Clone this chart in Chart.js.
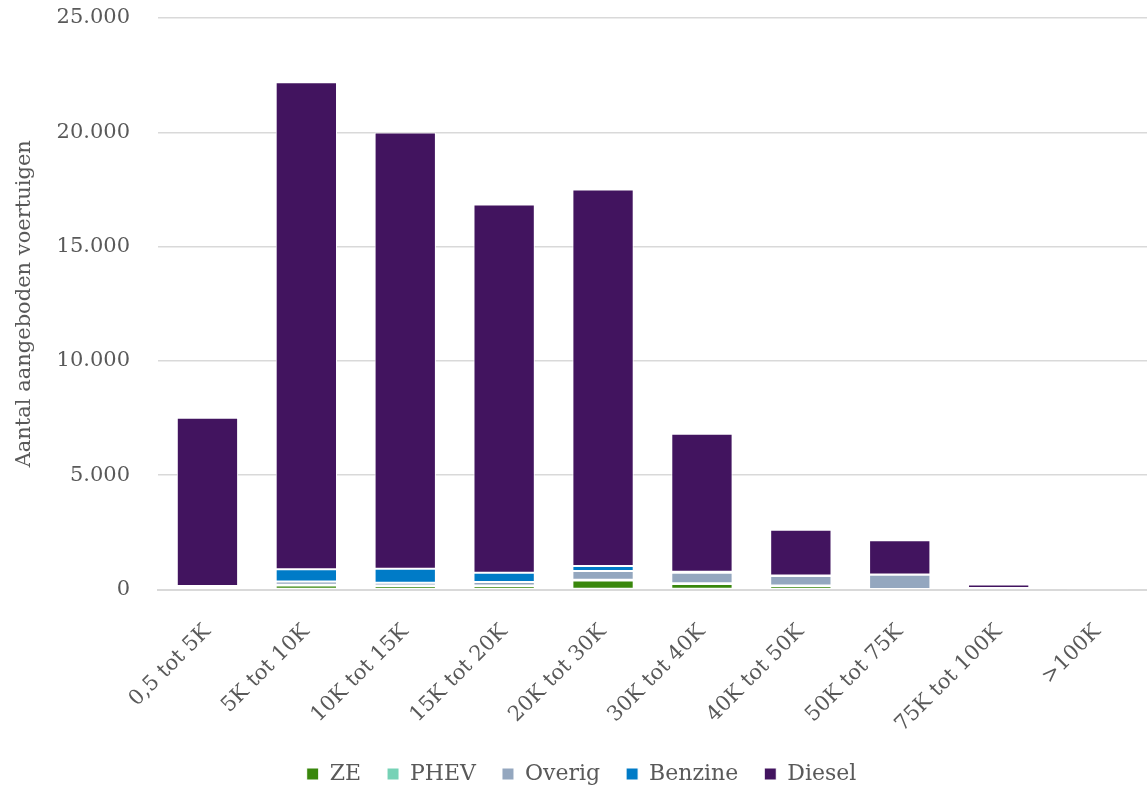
<!DOCTYPE html>
<html>
<head>
<meta charset="utf-8">
<script src="https://cdn.jsdelivr.net/npm/chart.js@4.4.1/dist/chart.umd.min.js"></script>
<style>
html,body{margin:0;padding:0;background:#fff;}
#wrap{width:1147px;height:789px;position:relative;}
</style>
</head>
<body>
<div id="wrap"><canvas id="c" width="1147" height="789"></canvas></div>
<script>
const categories = ['0,5 tot 5K','5K tot 10K','10K tot 15K','15K tot 20K','20K tot 30K','30K tot 40K','40K tot 50K','50K tot 75K','75K tot 100K','>100K'];
const ze      = [20, 175, 150, 150, 395, 240, 150, 10, 10, 0];
const phev    = [10, 30, 30, 30, 30, 30, 20, 10, 5, 0];
const overig  = [80, 150, 120, 145, 385, 465, 420, 625, 40, 10];
const benzine = [40, 530, 610, 410, 220, 40, 20, 10, 10, 0];
const diesel  = [7360, 21300, 19085, 16105, 16470, 6035, 2000, 1500, 155, 10];
const yTicks  = [0, 5000, 10000, 15000, 20000, 25000];

const FONT = '"DejaVu Serif", serif';
const TXT = '#595959';

function fmt(v){ return v.toString().replace(/\B(?=(\d{3})+(?!\d))/g, '.'); }

const mk = (label, data, color) => ({label, data, backgroundColor: color, borderColor: '#ffffff', borderWidth: 1, borderSkipped: false});

const shiftLegend = {
  id: 'shiftLegend',
  afterLayout(chart) {
    const lg = chart.legend;
    if (lg) { lg.left += 8; lg.right += 8; }
  }
};

new Chart(document.getElementById('c'), {
  type: 'bar',
  data: {
    labels: categories,
    datasets: [
      mk('ZE', ze, '#39870c'),
      mk('PHEV', phev, '#76d2b6'),
      mk('Overig', overig, '#94a7bf'),
      mk('Benzine', benzine, '#007bc7'),
      mk('Diesel', diesel, '#42145f')
    ]
  },
  plugins: [shiftLegend],
  options: {
    responsive: false,
    animation: false,
    layout: {padding: {top: 18, right: 0, left: 0, bottom: -6}},
    plugins: {
      tooltip: {enabled: false},
      legend: {
        position: 'bottom',
        labels: {
          font: {family: FONT, size: 22},
          color: TXT,
          boxWidth: 12,
          boxHeight: 12,
          padding: 26
        }
      }
    },
    datasets: {bar: {barPercentage: 0.62, categoryPercentage: 1}},
    scales: {
      x: {
        stacked: true,
        afterFit: (s) => { s.height = 147.5; },
        grid: {display: false, drawTicks: false},
        border: {display: true, color: '#d9d9d9', width: 2},
        ticks: {
          font: {family: FONT, size: 21},
          color: TXT,
          minRotation: 45,
          maxRotation: 45,
          padding: 30,
          autoSkip: false
        }
      },
      y: {
        stacked: true,
        min: 0,
        max: 25000,
        afterBuildTicks: (s) => { s.ticks = yTicks.map(v => ({value: v})); },
        afterFit: (s) => { s.width = 158; s.paddingTop = 0; s.paddingBottom = 0; },
        grid: {color: '#d9d9d9', lineWidth: 1.5, drawTicks: false},
        border: {display: false},
        ticks: {
          font: {family: FONT, size: 21},
          color: TXT,
          padding: 28,
          callback: (v) => fmt(v)
        },
        title: {
          display: true,
          text: 'Aantal aangeboden voertuigen',
          font: {family: FONT, size: 21},
          color: TXT,
          padding: {top: 12, bottom: 0}
        }
      }
    }
  }
});
</script>
</body>
</html>
